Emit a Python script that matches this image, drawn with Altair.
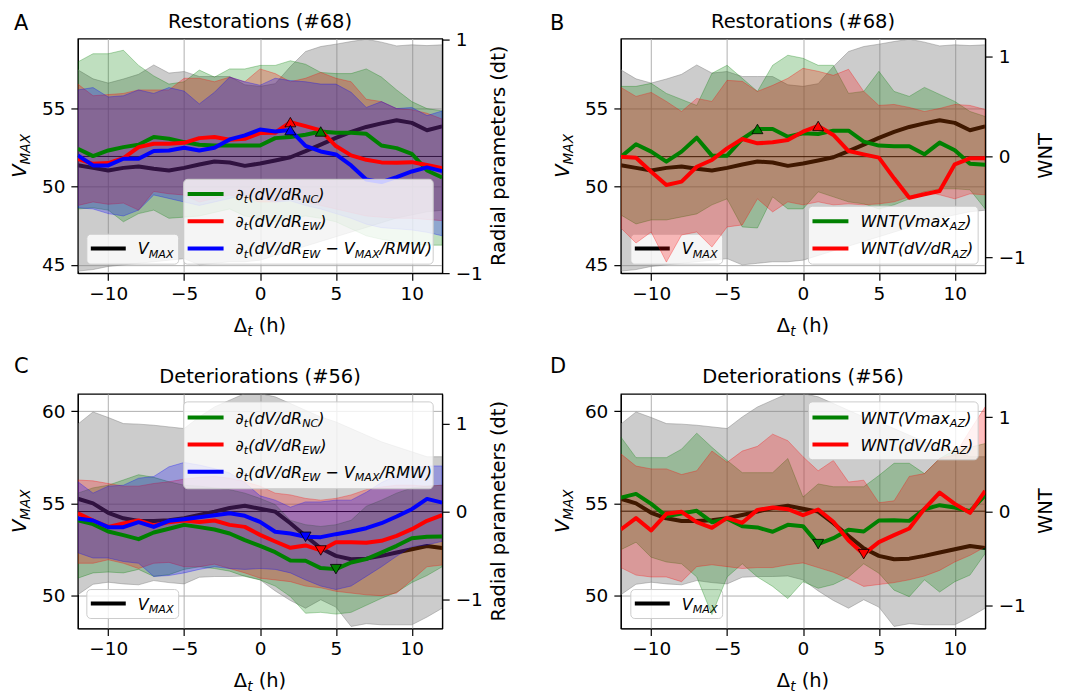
import altair as alt
import pandas as pd

X = list(range(-12, 13))

# ---------------- Restorations (#68): V_MAX composite (panels A and B)
RES_VMAX = [51.38, 51.21, 51.04, 51.21, 51.30, 51.15, 51.04, 51.21, 51.43, 51.62, 51.55, 51.34, 51.49,
            51.68, 51.89, 52.28, 52.70, 53.13, 53.51, 53.83, 54.06, 54.26, 54.09, 53.62, 53.87]
RES_VMAX_LO = [44.6, 44.7, 44.9, 45.0, 45.1, 45.2, 45.3, 45.4, 45.0, 45.1, 45.2, 45.2, 45.3,
               45.6, 45.9, 46.2, 46.5, 46.8, 47.1, 47.4, 47.7, 48.0, 48.2, 48.4, 48.5]
RES_VMAX_HI = [57.49, 56.91, 56.64, 56.90, 57.20, 57.80, 57.28, 57.38, 57.06, 57.06, 57.06, 56.53, 56.43,
               56.60, 57.70, 58.66, 58.98, 59.13, 59.30, 59.45, 59.26, 59.02, 59.09, 59.04, 59.09]

# ---------------- Deteriorations (#56): V_MAX composite (panels C and D)
DET_VMAX = [55.25, 55.00, 54.49, 54.19, 54.04, 54.04, 54.08, 54.19, 54.37, 54.55, 54.75, 54.87, 54.71,
            54.55, 53.92, 53.23, 52.56, 52.15, 51.97, 52.00, 52.15, 52.33, 52.51, 52.69, 52.58]
DET_VMAX_LO = [50.04, 50.61, 50.72, 50.63, 50.58, 50.81, 50.70, 50.63, 50.99, 51.03, 51.03, 51.06, 50.85,
               50.25, 49.73, 49.31, 49.77, 49.37, 48.32, 48.47, 48.41, 48.41, 48.41, 48.83, 49.31]
DET_VMAX_HI = [59.30, 59.96, 59.66, 59.33, 59.30, 59.24, 59.15, 59.06, 59.69, 60.23, 60.60, 60.96, 60.96,
               60.78, 60.42, 60.05, 59.69, 59.42, 59.06, 58.70, 58.34, 58.07, 57.80, 57.53, 57.53]

# ---------------- Panel A: radial parameters (restorations)
A_NC = [0.066, 0.003, 0.051, 0.08, 0.10, 0.166, 0.151, 0.123, 0.10, 0.094, 0.094, 0.094, 0.094,
        0.157, 0.166, 0.186, 0.214, 0.203, 0.203, 0.194, 0.094, 0.071, 0.023, -0.12, -0.18]
A_NC_LO = [-0.45, -0.44, -0.46, -0.56, -0.49, -0.46, -0.53, -0.52, -0.51, -0.48, -0.45, -0.51, -0.53,
           -0.56, -0.53, -0.51, -0.53, -0.56, -0.62, -0.68, -0.71, -0.73, -0.75, -0.76, -0.76]
A_NC_HI = [0.81, 0.88, 0.88, 0.91, 0.78, 0.69, 0.62, 0.64, 0.74, 0.68, 0.75, 0.75, 0.78,
           0.78, 0.82, 0.79, 0.72, 0.71, 0.71, 0.75, 0.68, 0.57, 0.47, 0.41, 0.39]
A_EW = [-0.02, -0.063, -0.057, -0.014, 0.08, 0.109, 0.109, 0.117, 0.157, 0.166, 0.143, 0.151, 0.20,
        0.203, 0.294, 0.26, 0.223, 0.089, 0.009, -0.029, -0.051, -0.054, -0.049, -0.074, -0.10]
A_EW_LO = [-0.42, -0.39, -0.41, -0.40, -0.46, -0.30, -0.32, -0.33, -0.39, -0.36, -0.33, -0.36, -0.39,
           -0.39, -0.36, -0.39, -0.42, -0.45, -0.48, -0.51, -0.52, -0.53, -0.53, -0.54, -0.55]
A_EW_HI = [0.62, 0.52, 0.53, 0.54, 0.57, 0.57, 0.57, 0.67, 0.67, 0.64, 0.68, 0.64, 0.75,
           0.71, 0.64, 0.67, 0.72, 0.67, 0.64, 0.49, 0.47, 0.41, 0.40, 0.37, 0.32]
A_RMW = [0.009, -0.077, -0.077, -0.02, -0.02, 0.046, 0.051, 0.074, 0.051, 0.074, 0.146, 0.18, 0.231,
         0.214, 0.226, 0.091, 0.043, 0.017, -0.077, -0.197, -0.22, -0.177, -0.129, -0.094, -0.126]
A_RMW_LO = [-0.44, -0.45, -0.49, -0.51, -0.46, -0.33, -0.36, -0.39, -0.42, -0.39, -0.36, -0.33, -0.36,
            -0.39, -0.38, -0.42, -0.45, -0.49, -0.53, -0.58, -0.61, -0.62, -0.63, -0.65, -0.68]
A_RMW_HI = [0.57, 0.59, 0.51, 0.52, 0.57, 0.54, 0.59, 0.56, 0.45, 0.55, 0.68, 0.64, 0.61,
            0.67, 0.65, 0.64, 0.62, 0.62, 0.55, 0.42, 0.47, 0.41, 0.42, 0.35, 0.39]

# ---------------- Panel B: WNT (restorations)
B_VM = [-0.003, 0.123, 0.05, -0.05, 0.05, 0.189, 0.01, 0.01, 0.176, 0.276, 0.276, 0.199, 0.233,
        0.226, 0.259, 0.259, 0.15, 0.11, 0.103, 0.103, 0.023, 0.14, 0.063, -0.07, -0.08]
B_VM_LO = [-0.58, -0.67, -0.63, -0.63, -0.60, -0.57, -0.48, -0.42, -0.70, -0.71, -0.40, -0.52, -0.52,
           -0.35, -0.40, -0.45, -0.47, -0.52, -0.48, -0.42, -0.35, -0.32, -0.32, -0.33, -0.52]
B_VM_HI = [0.70, 0.70, 0.73, 0.63, 0.57, 0.51, 0.83, 0.91, 0.78, 0.65, 0.91, 1.01, 0.98,
           0.91, 0.91, 0.63, 0.65, 0.85, 0.65, 0.60, 0.69, 0.62, 0.55, 0.45, 0.40]
B_DV = [0.0, -0.01, -0.15, -0.282, -0.249, -0.10, -0.033, 0.083, 0.176, 0.133, 0.143, 0.166, 0.249,
        0.306, 0.216, 0.056, 0.023, -0.01, -0.216, -0.409, -0.375, -0.342, -0.076, -0.017, -0.017]
B_DV_LO = [-0.71, -0.86, -0.75, -1.05, -0.78, -0.75, -0.90, -0.70, -0.68, -0.42, -0.55, -0.45, -0.48,
           -0.45, -0.48, -0.47, -0.48, -0.47, -0.45, -0.40, -0.35, -0.38, -0.42, -0.37, -0.38]
B_DV_HI = [0.69, 0.60, 0.64, 0.55, 0.45, 0.58, 0.55, 0.76, 0.75, 0.65, 0.71, 0.78, 0.88,
           0.85, 0.81, 0.87, 0.65, 0.51, 0.52, 0.49, 0.45, 0.48, 0.52, 0.51, 0.47]

# ---------------- Panel C: radial parameters (deteriorations)
C_NC = [-0.099, -0.144, -0.228, -0.269, -0.315, -0.239, -0.197, -0.152, -0.178, -0.205, -0.25, -0.326, -0.391,
        -0.463, -0.558, -0.562, -0.645, -0.657, -0.581, -0.543, -0.467, -0.391, -0.304, -0.288, -0.285]
C_NC_LO = [-0.76, -0.70, -0.69, -0.70, -0.66, -0.74, -0.72, -0.66, -0.63, -0.65, -0.68, -0.74, -0.78,
           -0.85, -0.97, -1.16, -1.15, -1.17, -1.15, -1.07, -0.99, -0.92, -0.81, -0.73, -0.63]
C_NC_HI = [0.21, 0.27, 0.30, 0.36, 0.42, 0.39, 0.34, 0.30, 0.29, 0.27, 0.25, 0.21, 0.15,
           0.08, -0.10, -0.15, -0.17, -0.15, -0.10, 0.06, 0.13, 0.21, 0.27, 0.29, 0.30]
C_EW = [-0.019, -0.102, -0.175, -0.137, -0.102, -0.159, -0.121, -0.102, -0.118, -0.102, -0.152, -0.175, -0.266,
        -0.342, -0.414, -0.387, -0.444, -0.349, -0.349, -0.357, -0.334, -0.277, -0.201, -0.106, -0.042]
C_EW_LO = [-0.59, -0.59, -0.55, -0.59, -0.65, -0.59, -0.58, -0.63, -0.63, -0.60, -0.65, -0.70, -0.76,
           -0.78, -0.80, -0.85, -0.87, -0.91, -0.93, -0.95, -0.96, -0.93, -0.78, -0.63, -0.61]
C_EW_HI = [0.36, 0.35, 0.32, 0.29, 0.29, 0.32, 0.34, 0.37, 0.39, 0.40, 0.38, 0.34, 0.29,
           0.21, 0.19, 0.15, 0.13, 0.15, 0.19, 0.25, 0.28, 0.30, 0.30, 0.29, 0.30]
C_RMW = [-0.08, -0.102, -0.178, -0.178, -0.121, -0.175, -0.106, -0.087, -0.065, -0.042, -0.019, -0.049, -0.118,
         -0.231, -0.25, -0.288, -0.292, -0.258, -0.228, -0.19, -0.133, -0.057, 0.027, 0.144, 0.102]
C_RMW_LO = [-0.47, -0.53, -0.53, -0.57, -0.59, -0.74, -0.73, -0.70, -0.66, -0.63, -0.65, -0.66, -0.65,
            -0.66, -0.70, -0.78, -0.85, -0.89, -0.85, -0.74, -0.63, -0.51, -0.40, -0.38, -0.34]
C_RMW_HI = [0.34, 0.21, 0.29, 0.30, 0.38, 0.40, 0.51, 0.56, 0.53, 0.49, 0.44, 0.33, 0.18,
            0.13, 0.05, 0.11, 0.11, 0.13, 0.13, 0.22, 0.33, 0.41, 0.49, 0.52, 0.52]

# ---------------- Panel D: WNT (deteriorations)
D_VM = [0.145, 0.184, 0.078, -0.053, -0.025, 0.004, -0.117, -0.081, -0.159, -0.173, -0.219, -0.145, -0.159,
        -0.35, -0.287, -0.198, -0.216, -0.099, -0.096, -0.103, 0.021, 0.064, 0.039, 0.0, 0.17]
D_VM_LO = [-0.41, -0.33, -0.49, -0.54, -0.56, -0.70, -1.10, -0.70, -0.56, -0.70, -0.80, -0.93, -0.75,
           -0.82, -0.78, -0.70, -0.56, -0.66, -0.84, -0.91, -0.73, -0.86, -0.75, -0.68, -0.45]
D_VM_HI = [0.79, 0.57, 0.57, 0.57, 0.66, 0.83, 0.68, 0.54, 0.41, 0.41, 0.41, 0.56, 0.15,
           0.29, 0.26, 0.26, 0.26, 0.38, 0.51, 0.51, 0.40, 0.56, 0.65, 0.68, 0.72]
D_DV = [-0.195, -0.074, -0.205, -0.028, -0.007, -0.117, -0.177, -0.071, -0.124, 0.014, 0.039, 0.021, -0.042,
        0.018, -0.113, -0.312, -0.457, -0.329, -0.255, -0.184, 0.025, 0.198, 0.078, -0.018, 0.216]
D_DV_LO = [-0.60, -0.68, -0.70, -0.70, -0.75, -0.59, -0.57, -0.59, -0.61, -0.60, -0.60, -0.57, -0.55,
           -0.60, -0.65, -0.72, -0.80, -0.78, -0.76, -0.73, -0.69, -0.63, -0.54, -0.47, -0.38]
D_DV_HI = [0.61, 0.48, 0.45, 0.45, 0.39, 0.43, 0.64, 0.52, 0.64, 0.69, 0.82, 0.75, 0.58,
           0.43, 0.54, 0.31, 0.33, 0.09, 0.11, 0.37, 0.40, 0.56, 0.60, 0.86, 1.11]

X_TICKS = [-10, -5, 0, 5, 10]
R_TICKS = [-1, 0, 1]

# ---------------- styling
W, H = 365, 235
FONT = "DejaVu Sans"
GREEN, RED, BLUE = "#008000", "#ff0000", "#0000ff"
ONE = pd.DataFrame({"k": [0]})
XSC = alt.Scale(domain=[-12, 12], nice=False, zero=False)
XAX = alt.Axis(values=X_TICKS, format="d", grid=True, title=None, orient="bottom")

CW = {' ': .318, '(': .390, ')': .390, '/': .337, '−': .838, '∂': .52, '#': .838,
      'A': .684, 'C': .698, 'D': .770, 'E': .632, 'M': .863, 'N': .748, 'R': .695, 'T': .611,
      'V': .684, 'W': .989, 'X': .685, 'Z': .685, 'a': .613, 'd': .635, 'h': .634, 'm': .974,
      'x': .592, 't': .392, 'Δ': .684, 'e': .615, 'i': .278, 'o': .612, 'n': .634, 'r': .411,
      's': .521, 'l': .278, 'p': .635}


def tw(s, size):
    return sum(CW.get(ch, 0.6) for ch in s) * size


def txt(x, y, s, size, italic=False, align="left", angle=0, baseline="alphabetic"):
    kw = dict(font=FONT, fontSize=size, align=align, baseline=baseline, color="black")
    if italic:
        kw["fontStyle"] = "italic"
    if angle:
        kw["angle"] = angle
    return alt.Chart(ONE).mark_text(**kw).encode(x=alt.value(x), y=alt.value(y), text=alt.value(s))


def rich_width(segs, size):
    return sum(tw(s, size * (0.7 if k == "s" else 1.0)) for s, k, _ in segs)


def rich(segs, x0, y0, size, rotate=False):
    out = []
    pos = 0.0
    for s, kind, ital in segs:
        fs = size * (0.7 if kind == "s" else 1.0)
        off = 0.2 * size if kind == "s" else 0.0
        lead = len(s) - len(s.lstrip(" "))
        trail = len(s) - len(s.rstrip(" "))
        pos += lead * CW[" "] * fs
        core = s.strip(" ")
        if rotate:
            out.append(txt(x0 + off, y0 - pos, core, fs, ital, angle=270))
        else:
            out.append(txt(x0 + pos, y0 + off, core, fs, ital))
        pos += tw(core, fs) + trail * CW[" "] * fs
    return out


def rect(x1, y1, x2, y2, **kw):
    return alt.Chart(ONE).mark_rect(**kw).encode(
        x=alt.value(x1), x2=alt.value(x2), y=alt.value(y1), y2=alt.value(y2))


def hrule(x1, x2, y, color):
    return alt.Chart(ONE).mark_rule(color=color, strokeWidth=4).encode(
        x=alt.value(x1), x2=alt.value(x2), y=alt.value(y))


LAB_NC = [("∂", "n", False), ("t", "s", True), ("(dV/dR", "n", True), ("NC", "s", True), (")", "n", True)]
LAB_EW = [("∂", "n", False), ("t", "s", True), ("(dV/dR", "n", True), ("EW", "s", True), (")", "n", True)]
LAB_RMW = [("∂", "n", False), ("t", "s", True), ("(dV/dR", "n", True), ("EW", "s", True),
           (" − V", "n", True), ("MAX", "s", True), ("/RMW)", "n", True)]
LAB_WVM = [("WNT(Vmax", "n", True), ("AZ", "s", True), (")", "n", True)]
LAB_WDV = [("WNT(dV/dR", "n", True), ("AZ", "s", True), (")", "n", True)]
LAB_VMAX = [("V", "n", True), ("MAX", "s", True)]
LAB_DT = [("Δ", "n", False), ("t", "s", True), (" (h)", "n", False)]


def panel(P):
    # ---- left axis group: V_MAX
    vm, vlo, vhi = P["vmax"]
    d = pd.DataFrame({"x": X, "v": vm, "lo": vlo, "hi": vhi})
    ysc = alt.Scale(domain=P["ydom"], nice=False, zero=False)
    yl = alt.Axis(values=P["yticks"], format="d", grid=True, title=None, orient="left")
    left = [
        alt.Chart(d).mark_area(fill="#808080", fillOpacity=0.4, stroke="#808080", strokeOpacity=0.45,
                               strokeWidth=1, clip=True).encode(
            x=alt.X("x:Q", scale=XSC, axis=XAX),
            y=alt.Y("lo:Q", scale=ysc, axis=yl),
            y2=alt.Y2("hi:Q")),
        alt.Chart(d).mark_line(color="black", strokeWidth=4, clip=True, strokeJoin="round").encode(
            x=alt.X("x:Q", scale=XSC, axis=XAX), y=alt.Y("v:Q", scale=ysc, axis=yl)),
    ]
    bx1, by1, bx2, by2 = P["vbox"]
    left.append(rect(bx1, by1, bx2, by2, fill="white", fillOpacity=0.8, stroke="#cccccc",
                     strokeWidth=1, cornerRadius=4))
    left.append(hrule(bx1 + 4, bx1 + 39, P["vrow"], "black"))
    left += rich(LAB_VMAX, bx1 + 51, P["vrow"] + 6, 16)

    # ---- right axis group: radial parameters / WNT
    rsc = alt.Scale(domain=P["rdom"], nice=False, zero=False)
    yr = alt.Axis(values=R_TICKS, format="d", grid=False, title=None, orient="right")
    right = [alt.Chart(pd.DataFrame({"z": [0]})).mark_rule(color="black", strokeWidth=1).encode(
        y=alt.Y("z:Q", scale=rsc, axis=yr))]
    for m, lo, hi, c in P["series"]:
        dd = pd.DataFrame({"x": X, "lo": lo, "hi": hi})
        right.append(alt.Chart(dd).mark_area(fill=c, fillOpacity=0.25, stroke=c, strokeOpacity=0.3,
                                             strokeWidth=1, clip=True).encode(
            x=alt.X("x:Q", scale=XSC, axis=XAX), y=alt.Y("lo:Q", scale=rsc, axis=yr), y2=alt.Y2("hi:Q")))
    for m, lo, hi, c in P["series"]:
        dd = pd.DataFrame({"x": X, "m": m})
        right.append(alt.Chart(dd).mark_line(color=c, strokeWidth=4, clip=True, strokeJoin="round").encode(
            x=alt.X("x:Q", scale=XSC, axis=XAX), y=alt.Y("m:Q", scale=rsc, axis=yr)))
    mk = pd.DataFrame({"x": [xm for s, xm, c in P["markers"]],
                       "y": [s[X.index(xm)] for s, xm, c in P["markers"]],
                       "c": [c for s, xm, c in P["markers"]]})
    right.append(alt.Chart(mk).mark_point(shape=P["shape"], filled=True, size=120, stroke="black",
                                          strokeWidth=0.8, opacity=1).encode(
        x=alt.X("x:Q", scale=XSC, axis=XAX), y=alt.Y("y:Q", scale=rsc, axis=yr),
        fill=alt.Fill("c:N", scale=None)))
    # legend of the parameters
    lx1, ly1, lx2, ly2 = P["lbox"]
    right.append(rect(lx1, ly1, lx2, ly2, fill="white", fillOpacity=0.8, stroke="#cccccc",
                      strokeWidth=1, cornerRadius=4))
    for (segs, c), ry in zip(P["labels"], P["rows"]):
        right.append(hrule(lx1 + 4, lx1 + 40, ry, c))
        right += rich(segs, lx1 + 52, ry + 6, 16)
    # titles and axis labels
    right.append(txt(W / 2, -11, P["title"], 19.5, align="center"))
    right.append(txt(P["lpos"][0], P["lpos"][1], P["letter"], 21))
    dtw = rich_width(LAB_DT, 19.5)
    right += rich(LAB_DT, W / 2 - dtw / 2, H + 59, 19.5)
    vw = rich_width(LAB_VMAX, 19.5)
    right += rich(LAB_VMAX, -52, H / 2 + vw / 2, 19.5, rotate=True)
    right.append(txt(W + P["rtx"], H / 2, P["rtitle"], 19.5, align="center", angle=270))
    if "anchor" in P:
        ax1, ay1 = P["anchor"]
        right.append(rect(ax1, ay1, ax1 + 1, ay1 + 1, opacity=0))
    return alt.layer(alt.layer(*left), alt.layer(*right)).resolve_scale(y="independent").properties(
        width=W, height=H)


PA = dict(vmax=(RES_VMAX, RES_VMAX_LO, RES_VMAX_HI), ydom=[44.47, 59.49], yticks=[45, 50, 55],
          rdom=[-1.0, 1.01],
          series=[(A_NC, A_NC_LO, A_NC_HI, GREEN), (A_EW, A_EW_LO, A_EW_HI, RED),
                  (A_RMW, A_RMW_LO, A_RMW_HI, BLUE)],
          markers=[(A_NC, 4, GREEN), (A_EW, 2, RED), (A_RMW, 2, BLUE)], shape="triangle-up",
          vbox=(9, 196, 101, 226), vrow=210.3,
          lbox=(106, 141, 356, 226), rows=[155.7, 183, 210.3],
          labels=[(LAB_NC, GREEN), (LAB_EW, RED), (LAB_RMW, BLUE)],
          title="Restorations (#68)", letter="A", lpos=(-64, -9),
          rtitle="Radial parameters (dt)", rtx=63, anchor=(-77, -37))
PB = dict(vmax=(RES_VMAX, RES_VMAX_LO, RES_VMAX_HI), ydom=[44.47, 59.49], yticks=[45, 50, 55],
          rdom=[-1.16, 1.176],
          series=[(B_VM, B_VM_LO, B_VM_HI, GREEN), (B_DV, B_DV_LO, B_DV_HI, RED)],
          markers=[(B_VM, -3, GREEN), (B_DV, 1, RED)], shape="triangle-up",
          vbox=(10, 196, 102, 226), vrow=210.3,
          lbox=(188, 168, 358, 226), rows=[183, 210.3],
          labels=[(LAB_WVM, GREEN), (LAB_WDV, RED)],
          title="Restorations (#68)", letter="B", lpos=(-71, -9),
          rtitle="WNT", rtx=67)
PC = dict(vmax=(DET_VMAX, DET_VMAX_LO, DET_VMAX_HI), ydom=[48.21, 60.94], yticks=[50, 55, 60],
          rdom=[-1.334, 1.342],
          series=[(C_NC, C_NC_LO, C_NC_HI, GREEN), (C_EW, C_EW_LO, C_EW_HI, RED),
                  (C_RMW, C_RMW_LO, C_RMW_HI, BLUE)],
          markers=[(C_RMW, 3, BLUE), (C_EW, 4, RED), (C_NC, 5, GREEN)], shape="triangle-down",
          vbox=(9, 196, 101, 225), vrow=210,
          lbox=(106, 8, 356, 95), rows=[23.7, 50.7, 78],
          labels=[(LAB_NC, GREEN), (LAB_EW, RED), (LAB_RMW, BLUE)],
          title="Deteriorations (#56)", letter="C", lpos=(-64, -20.5),
          rtitle="Radial parameters (dt)", rtx=63)
PD = dict(vmax=(DET_VMAX, DET_VMAX_LO, DET_VMAX_HI), ydom=[48.21, 60.94], yticks=[50, 55, 60],
          rdom=[-1.248, 1.248],
          series=[(D_VM, D_VM_LO, D_VM_HI, GREEN), (D_DV, D_DV_LO, D_DV_HI, RED)],
          markers=[(D_VM, 1, GREEN), (D_DV, 4, RED)], shape="triangle-down",
          vbox=(10, 196, 102, 225), vrow=210,
          lbox=(188, 8, 358, 66), rows=[23.7, 50.7],
          labels=[(LAB_WVM, GREEN), (LAB_WDV, RED)],
          title="Deteriorations (#56)", letter="D", lpos=(-71, -20.5),
          rtitle="WNT", rtx=67, anchor=(447, 299))

chart = alt.concat(panel(PA), panel(PB), panel(PC), panel(PD), columns=2,
                   spacing={"row": 121, "column": 179}, bounds="flush", padding=0).configure_view(
    stroke="black", strokeWidth=1.2
).configure_axis(
    labelFont=FONT, labelFontSize=18.5, labelColor="black", tickColor="black", tickSize=7,
    tickWidth=1.2, domainColor="black", domainWidth=1.2, labelPadding=4,
    gridColor="#b0b0b0", gridWidth=1, titleFont=FONT
).configure_axisY(labelPadding=6)

chart.save("out.html", embed_options={"renderer": "svg", "actions": False})
